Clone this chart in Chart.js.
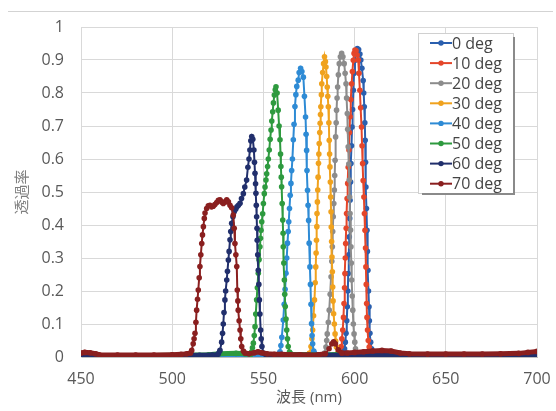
<!DOCTYPE html>
<html>
<head>
<meta charset="utf-8">
<script src="https://cdn.jsdelivr.net/npm/chart.js@4"></script>
<style>
  html, body { margin: 0; padding: 0; background: #fff; }
  #wrap { position: relative; width: 556px; height: 411px; }
  #topline { position: absolute; left: 8px; top: 11px; width: 545px; height: 1px; background: #d3d3d3; }
  canvas { display: block; }
</style>
</head>
<body>
<div id="wrap">
  <div id="topline"></div>
  <canvas id="chart" width="556" height="411" style="width:556px;height:411px"></canvas>
</div>
<script>
const labels = ['0 deg', '10 deg', '20 deg', '30 deg', '40 deg', '50 deg', '60 deg', '70 deg'];
const colors = ['#2a5fae', '#e4462a', '#8c8c8c', '#f0a21e', '#2e8bd5', '#2e9a3f', '#212f6c', '#8a1f1f'];
const xTicks = [450, 500, 550, 600, 650, 700];

// [wavelength nm, transmittance]
const deg0 = [[450,0.007],[455,0.008],[460,0.004],[480,0.003],[500,0.003],[520,0.003],[540,0.003],[560,0.003],[580,0.004],[590,0.005],[593,0.007],
  [594.0,0.012],[594.5,0.025],[594.9,0.045],[595.3,0.072],[595.7,0.11],[596.0,0.152],[596.3,0.2],[596.5,0.253],[596.8,0.31],[597.1,0.364],[597.3,0.42],[597.5,0.475],[597.8,0.53],[598.0,0.586],[598.3,0.64],[598.6,0.697],[598.9,0.75],[599.3,0.808],[599.7,0.86],[600.2,0.899],[600.8,0.925],[601.5,0.935],
  [602.2,0.932],[602.9,0.918],[603.4,0.9],[604.0,0.875],[604.7,0.838],[605.0,0.8],[605.3,0.758],[605.6,0.71],[605.8,0.657],[606.0,0.59],[606.2,0.515],[606.5,0.45],[606.8,0.384],[607.0,0.32],[607.3,0.263],[607.6,0.2],[607.9,0.152],[608.1,0.11],[608.4,0.072],[608.8,0.045],[609.3,0.025],[610,0.012],
  [612,0.008],[620,0.006],[640,0.004],[660,0.004],[680,0.004],[700,0.006]];
const deg10 = [[450,0.006],[460,0.004],[480,0.003],[500,0.003],[520,0.003],[540,0.003],[560,0.003],[580,0.004],[588,0.005],[591,0.007],
  [592.0,0.012],[592.6,0.032],[593.0,0.055],[593.5,0.082],[593.9,0.12],[594.2,0.162],[594.5,0.21],[594.7,0.253],[594.9,0.3],[595.1,0.344],[595.4,0.39],[595.6,0.435],[595.9,0.48],[596.2,0.526],[596.5,0.575],[596.9,0.627],[597.2,0.68],[597.5,0.728],[597.9,0.78],[598.4,0.828],[598.8,0.865],[599.3,0.899],[599.7,0.92],[600.2,0.93],
  [600.8,0.928],[601.4,0.915],[602.0,0.9],[602.4,0.86],[602.9,0.808],[603.3,0.755],[603.8,0.697],[604.1,0.64],[604.4,0.586],[604.7,0.535],[605.1,0.485],[605.4,0.435],[605.7,0.384],[606.0,0.33],[606.2,0.273],[606.4,0.22],[606.6,0.162],[606.8,0.12],[607.1,0.082],[607.5,0.05],[608.0,0.03],[608.8,0.015],
  [611,0.008],[620,0.006],[640,0.004],[660,0.004],[680,0.004],[700,0.006]];
const deg20 = [[450,0.006],[460,0.004],[480,0.003],[500,0.003],[520,0.003],[540,0.003],[560,0.003],[575,0.004],[581,0.005],[583,0.007],
  [583.5,0.012],[584.3,0.03],[584.7,0.05],[585.0,0.07],[585.6,0.105],[586.1,0.142],[586.6,0.19],[587.1,0.243],[587.5,0.29],[587.8,0.334],[588.0,0.38],[588.3,0.425],[588.6,0.465],[588.9,0.506],[589.1,0.55],[589.3,0.596],[589.6,0.667],[589.9,0.71],[590.1,0.748],[590.4,0.785],[590.7,0.818],[591.1,0.855],[591.6,0.889],[592.2,0.91],[592.9,0.92],
  [593.6,0.91],[594.3,0.889],[594.8,0.86],[595.3,0.828],[595.6,0.785],[596.0,0.738],[596.2,0.69],[596.5,0.637],[596.8,0.585],[597.1,0.536],[597.3,0.485],[597.5,0.435],[597.8,0.385],[598.0,0.334],[598.2,0.285],[598.4,0.233],[598.7,0.185],[599.0,0.142],[599.3,0.1],[599.7,0.07],[600.1,0.045],[600.5,0.025],[601.2,0.012],
  [604,0.008],[620,0.006],[640,0.004],[660,0.004],[680,0.004],[700,0.006]];
const deg30 = [[450,0.006],[460,0.004],[480,0.003],[500,0.003],[520,0.003],[540,0.003],[560,0.004],[570,0.005],[574,0.007],
  [575.3,0.012],[576.1,0.032],[576.6,0.055],[577.0,0.082],[577.5,0.125],[578.0,0.173],[578.4,0.225],[578.7,0.273],[578.9,0.315],[579.1,0.354],[579.3,0.395],[579.4,0.435],[579.6,0.47],[579.8,0.506],[580.0,0.545],[580.2,0.587],[580.4,0.615],[580.6,0.647],[580.9,0.68],[581.1,0.708],[581.3,0.735],[581.5,0.758],[581.8,0.795],[582.0,0.828],[582.5,0.862],[583.0,0.889],[583.5,0.91],
  [584.0,0.895],[584.3,0.879],[584.7,0.85],[585.0,0.818],[585.3,0.79],[585.6,0.758],[585.9,0.71],[586.1,0.657],[586.3,0.615],[586.5,0.576],[586.7,0.53],[586.9,0.485],[587.1,0.44],[587.2,0.394],[587.4,0.35],[587.6,0.303],[587.8,0.258],[588.0,0.212],[588.2,0.17],[588.5,0.131],[588.9,0.1],[589.3,0.07],[589.6,0.048],[590.0,0.03],[590.8,0.013],
  [594,0.008],[610,0.006],[630,0.004],[660,0.004],[680,0.004],[700,0.006]];
const deg40 = [[450,0.006],[460,0.004],[480,0.003],[500,0.003],[520,0.003],[540,0.004],[550,0.005],[556,0.006],
  [558.5,0.008],[559.1,0.016],[559.6,0.035],[560.1,0.06],[560.9,0.112],[561.4,0.16],[561.9,0.205],[562.4,0.254],[562.8,0.3],[563.2,0.345],[563.6,0.38],[563.9,0.41],[564.3,0.45],[564.7,0.49],[565.1,0.526],[565.5,0.565],[565.9,0.6],[566.4,0.658],[566.8,0.705],[567.3,0.759],[567.8,0.795],[568.3,0.82],[569.1,0.839],[569.6,0.862],[570.4,0.875],
  [571.1,0.865],[571.9,0.848],[572.5,0.79],[573.1,0.727],[573.4,0.675],[573.7,0.626],[573.9,0.565],[574.2,0.505],[574.5,0.46],[574.8,0.414],[575.1,0.345],[575.5,0.273],[575.8,0.22],[576.1,0.16],[576.4,0.101],[576.7,0.065],[577.0,0.04],[577.6,0.018],[578.5,0.008],
  [590,0.006],[610,0.005],[630,0.004],[660,0.004],[680,0.004],[700,0.006]];
const deg50 = [[450,0.006],[460,0.004],[480,0.004],[500,0.005],[520,0.007],[526,0.01],[535,0.011],[540,0.01],
  [543.0,0.008],[543.6,0.016],[544.0,0.028],[544.5,0.042],[545.0,0.065],[545.4,0.092],[545.8,0.13],[546.3,0.173],[546.7,0.21],[547.2,0.254],[547.6,0.295],[548.1,0.334],[548.4,0.36],[548.7,0.384],[549.1,0.41],[549.6,0.434],[550.0,0.465],[550.5,0.495],[550.9,0.515],[551.4,0.536],[551.8,0.555],[552.3,0.577],[552.7,0.6],[553.2,0.627],[553.7,0.66],[554.2,0.688],[554.6,0.715],[555.1,0.743],[555.5,0.77],[556.0,0.794],[556.5,0.81],[556.9,0.819],
  [557.5,0.8],[558.1,0.748],[558.6,0.7],[559.1,0.658],[559.4,0.615],[559.6,0.577],[559.8,0.545],[560.0,0.516],[560.3,0.465],[560.6,0.415],[560.8,0.375],[560.9,0.334],[561.2,0.285],[561.5,0.233],[561.7,0.19],[562.0,0.153],[562.4,0.115],[562.8,0.082],[563.2,0.055],[563.6,0.032],[564.3,0.015],[565.5,0.008],
  [580,0.006],[600,0.008],[612,0.01],[620,0.008],[640,0.005],[660,0.004],[680,0.004],[700,0.006]];
const deg60 = [[450,0.007],[455,0.008],[460,0.004],[480,0.003],[500,0.004],[515,0.005],[522,0.006],
  [524.5,0.006],[525.3,0.01],[526.2,0.02],[527.1,0.045],[527.6,0.072],[528.0,0.1],[528.4,0.135],[528.9,0.173],[529.3,0.2],[529.9,0.233],[530.3,0.26],[530.8,0.294],[531.2,0.32],[531.7,0.355],[532.1,0.38],[532.6,0.405],[533.3,0.425],[534.0,0.44],[534.8,0.448],[535.5,0.455],[536.3,0.46],[537.2,0.466],[538.0,0.48],[539.0,0.495],[539.8,0.515],[540.8,0.536],[541.5,0.575],[542.1,0.6],[542.6,0.627],[543.1,0.655],[543.6,0.668],
  [544.2,0.66],[544.8,0.627],[545.1,0.59],[545.4,0.557],[545.7,0.525],[545.9,0.496],[546.1,0.46],[546.3,0.425],[546.5,0.39],[546.6,0.354],[546.9,0.31],[547.2,0.263],[547.5,0.22],[547.8,0.173],[548.1,0.13],[548.5,0.082],[548.8,0.055],[549.2,0.032],[550.0,0.012],[551.5,0.006],
  [570,0.005],[600,0.005],[630,0.004],[660,0.004],[680,0.004],[700,0.006]];
const deg70 = [[450,0.012],[452,0.014],[455,0.013],[458,0.01],[460,0.007],[470,0.006],[480,0.006],[490,0.006],[500,0.007],[505,0.008],[508,0.01],[510,0.012],
  [510.7,0.02],[511.5,0.04],[512.0,0.055],[512.5,0.072],[513.0,0.105],[513.4,0.142],[513.9,0.175],[514.3,0.203],[514.8,0.24],[515.2,0.274],[515.7,0.31],[516.2,0.344],[516.6,0.37],[517.1,0.395],[517.6,0.42],[518.0,0.436],[518.9,0.45],[519.8,0.458],[520.7,0.46],[521.6,0.455],[522.5,0.457],[523.4,0.462],[524.4,0.468],[525.3,0.475],[526.2,0.476],[527.1,0.47],[528.0,0.465],[529.0,0.47],[529.9,0.476],[530.8,0.47],[531.7,0.46],[532.6,0.452],
  [533.5,0.43],[534.0,0.39],[534.4,0.344],[534.9,0.31],[535.4,0.274],[535.7,0.203],[536.0,0.17],[536.2,0.142],[536.7,0.11],[537.2,0.082],[537.6,0.055],[538.1,0.032],[539.0,0.018],[539.9,0.012],
  [542,0.01],[545,0.013],[547,0.016],[549,0.013],[552,0.01],[556,0.008],[560,0.008],[565,0.007],[570,0.007],[575,0.006],[580,0.007],[584,0.01],[586,0.025],[587.5,0.04],[588.5,0.046],[589.5,0.04],[591,0.022],[593,0.012],
  [596,0.012],[600,0.014],[605,0.016],[610,0.018],[615,0.02],[620,0.018],[625,0.012],[630,0.01],[640,0.009],[650,0.009],[660,0.009],[670,0.009],[680,0.01],[690,0.011],[695,0.014],[700,0.017]];

const series = [deg0, deg10, deg20, deg30, deg40, deg50, deg60, deg70];

const FONT = "'Open Sans', 'Noto Sans CJK JP', sans-serif";

// Excel style legend box drawn inside the plot area
const boxLegend = {
  id: 'boxLegend',
  afterDraw(chart) {
    const { ctx, chartArea } = chart;
    const left = chartArea.right - 119;
    const top = chartArea.top + 6;
    const w = 95, h = 160, rowH = 20.1;
    ctx.save();
    ctx.fillStyle = '#ffffff';
    ctx.fillRect(left, top, w, h);
    ctx.strokeStyle = '#d0d0d0';
    ctx.lineWidth = 1;
    ctx.strokeRect(left + 0.5, top + 0.5, w, h);
    // shadow on right and bottom
    ctx.strokeStyle = '#8a8a8a';
    ctx.lineWidth = 2;
    ctx.beginPath();
    ctx.moveTo(left + w + 1, top + 4);
    ctx.lineTo(left + w + 1, top + h + 1);
    ctx.lineTo(left + 4, top + h + 1);
    ctx.stroke();
    ctx.font = '16px ' + FONT;
    ctx.textBaseline = 'middle';
    chart.data.datasets.forEach((ds, i) => {
      const y = top + 10 + i * rowH;
      ctx.strokeStyle = ds.borderColor;
      ctx.lineWidth = 2;
      ctx.beginPath();
      ctx.moveTo(left + 12, y);
      ctx.lineTo(left + 34, y);
      ctx.stroke();
      ctx.fillStyle = ds.borderColor;
      ctx.beginPath();
      ctx.arc(left + 23, y, 2.7, 0, Math.PI * 2);
      ctx.fill();
      ctx.fillStyle = '#444444';
      ctx.fillText(ds.label, left + 34, y + 1);
    });
    ctx.restore();
  }
};

new Chart(document.getElementById('chart'), {
  type: 'line',
  data: {
    datasets: series.map((pts, i) => ({
      label: labels[i],
      data: pts.map(p => ({ x: p[0], y: p[1] })),
      borderColor: colors[i],
      backgroundColor: colors[i],
      pointBackgroundColor: colors[i],
      pointBorderColor: colors[i],
      pointRadius: 2.8,
      pointBorderWidth: 0,
      borderWidth: 2,
      tension: 0,
      order: series.length - 1 - i,
      segment: {
        borderWidth: c => (c.p0.parsed.y < 0.025 && c.p1.parsed.y < 0.025) ? 5 : 2
      }
    }))
  },
  options: {
    responsive: false,
    animation: false,
    layout: { padding: { top: 27, right: 19, left: 0, bottom: 0 } },
    scales: {
      x: {
        type: 'linear',
        min: 450,
        max: 700,
        afterBuildTicks: s => { s.ticks = xTicks.map(v => ({ value: v })); },
        afterFit: s => { s.height = 54; s.paddingLeft = 0; s.paddingRight = 0; },
        grid: { color: '#d9d9d9', drawTicks: false },
        border: { color: '#bfbfbf' },
        ticks: { padding: 13, color: '#595959', font: { family: FONT, size: 16 } },
        title: { display: true, text: '波長 (nm)', color: '#595959', font: { family: FONT, size: 15 }, padding: { top: 0, bottom: 4 } }
      },
      y: {
        min: 0,
        max: 1,
        afterFit: s => { s.width = 81; },
        grid: { color: '#d9d9d9', drawTicks: false },
        border: { color: '#d9d9d9' },
        ticks: {
          stepSize: 0.1,
          padding: 17,
          color: '#595959',
          font: { family: FONT, size: 16 },
          callback: v => String(Number(v.toFixed(1)))
        },
        title: { display: true, text: '透過率', color: '#7f7f7f', font: { family: FONT, size: 15 }, padding: { top: 14, bottom: 0 } }
      }
    },
    plugins: {
      legend: { display: false },
      tooltip: { enabled: false }
    }
  },
  plugins: [boxLegend]
});
</script>
</body>
</html>
